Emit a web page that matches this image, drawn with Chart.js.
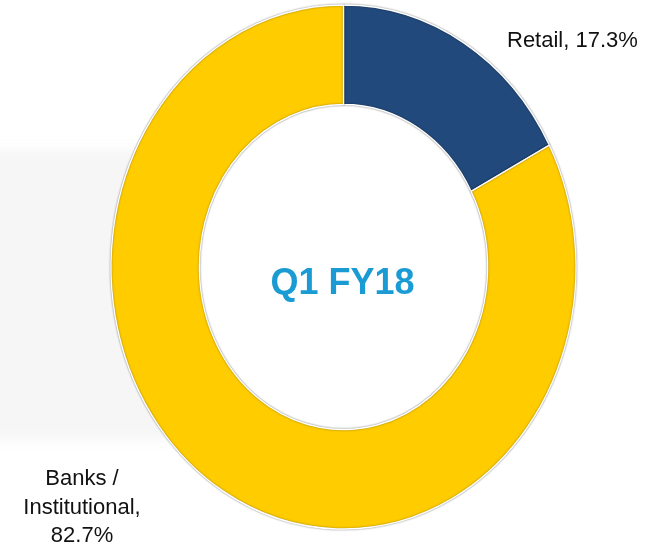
<!DOCTYPE html>
<html>
<head>
<meta charset="utf-8">
<script src="https://cdn.jsdelivr.net/npm/chart.js@4/dist/chart.umd.min.js"></script>
<style>
  html, body { margin: 0; padding: 0; background: #ffffff; }
  #wrap { position: relative; width: 654px; height: 550px; overflow: hidden; }
  #shade { position: absolute; left: -20px; top: 150px; width: 200px; height: 290px; background: #f6f6f6; filter: blur(6px); }
  #cover { position: absolute; left: 0; top: 0; width: 654px; height: 550px; }
  canvas { position: absolute; left: 0; top: 0; }
</style>
</head>
<body>
<div id="wrap">
  <div id="shade"></div>
  <canvas id="c" width="654" height="550"></canvas>
</div>
<script>
const categories = ['Retail', 'Banks / Institutional'];
const shares = [17.3, 82.7];
const sliceColors = ['#21497B', '#FFCC00'];
const centerTitle = 'Q1 FY18';
const labelLines = [
  ['Retail, 17.3%'],
  ['Banks /', 'Institutional,', '82.7%']
];

const ELLIPSE_X = 232.5 / 262;

const ellipsePlugin = {
  id: 'ellipse',
  beforeDatasetsDraw(chart) {
    const ctx = chart.ctx;
    const a = chart.chartArea;
    const cx = (a.left + a.right) / 2, cy = (a.top + a.bottom) / 2;
    // white fill of the hole so the background shade does not show inside
    ctx.save();
    ctx.fillStyle = '#ffffff';
    ctx.beginPath();
    ctx.ellipse(cx, cy, 232.5 * 0.62 + 2, 262 * 0.62 + 2, 0, 0, Math.PI * 2);
    ctx.fill();
    ctx.restore();
    ctx.save();
    ctx.translate(cx, cy);
    ctx.scale(ELLIPSE_X, 1);
    ctx.translate(-cx, -cy);
    ctx.shadowColor = 'rgba(0,0,0,0.45)';
    ctx.shadowBlur = 2;
  },
  afterDatasetsDraw(chart) {
    chart.ctx.restore();
  },
  afterDraw(chart) {
    const ctx = chart.ctx;
    const a = chart.chartArea;
    const cx = (a.left + a.right) / 2, cy = (a.top + a.bottom) / 2;
    ctx.save();
    ctx.fillStyle = '#1A9BD3';
    ctx.font = 'bold 36px "Liberation Sans", Arial, sans-serif';
    ctx.textAlign = 'center';
    ctx.textBaseline = 'alphabetic';
    ctx.fillText(centerTitle, cx - 1, cy + 27);

    ctx.fillStyle = '#111111';
    ctx.font = '22px "Liberation Sans", Arial, sans-serif';
    ctx.textAlign = 'left';
    labelLines[0].forEach((t, i) => ctx.fillText(t, 507, 47 + i * 28));
    ctx.textAlign = 'center';
    labelLines[1].forEach((t, i) => ctx.fillText(t, 82, 485 + i * 28.5));
    ctx.restore();
  }
};

new Chart(document.getElementById('c'), {
  type: 'doughnut',
  data: {
    labels: categories,
    datasets: [{
      data: shares,
      backgroundColor: sliceColors,
      borderColor: '#ffffff',
      borderWidth: 1.5,
      hoverOffset: 0
    }]
  },
  options: {
    responsive: false,
    animation: false,
    radius: 262,
    cutout: '62%',
    rotation: 0,
    layout: { padding: { left: 33, right: 0, top: 0, bottom: 16 } },
    plugins: {
      legend: { display: false },
      tooltip: { enabled: false },
      title: { display: false }
    }
  },
  plugins: [ellipsePlugin]
});
</script>
</body>
</html>
